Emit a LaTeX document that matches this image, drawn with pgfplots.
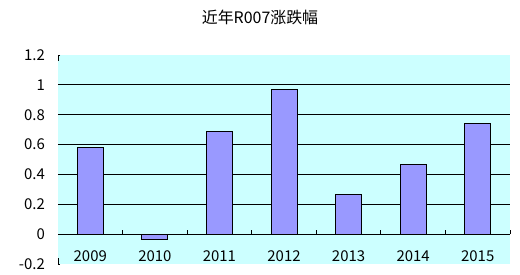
\documentclass[border=0pt]{standalone}
\usepackage{fontspec}
\setmainfont{Noto Sans CJK SC}
\usepackage{pgfplots}
\pgfplotsset{compat=1.18}
\definecolor{plotbg}{HTML}{CCFFFF}
\definecolor{barfill}{HTML}{9999FF}
\begin{document}
\begin{tikzpicture}
\path[use as bounding box] (-58bp,-11bp) rectangle (462bp,264bp);
\begin{axis}[
  at={(0,0)}, anchor=south west,
  scale only axis, width=452bp, height=209bp,
  xmin=-0.5, xmax=6.5, ymin=-0.2, ymax=1.2,
  axis line style={draw=none},
  axis background/.style={fill=plotbg},
  ybar, bar width=26bp,
  xtick={0,1,2,3,4,5,6},
  xticklabels={2009,2010,2011,2012,2013,2014,2015},
  ytick={0,0.2,0.4,0.6,0.8,1},
  yticklabels={0,0.2,0.4,0.6,0.8,1},
  extra y ticks={-0.2,1.2},
  extra y tick labels={-0.2,1.2},
  extra y tick style={grid=none},
  ymajorgrids, grid style={black, line width=0.9bp},
  major tick length=0pt,
  tick label style={font=\fontsize{15}{17}\selectfont},
  xticklabel style={anchor=center, yshift=8bp},
  yticklabel style={anchor=east, inner sep=0pt, xshift=-13bp},
  /pgf/number format/assume math mode=true,
  clip=false,
]
\addplot[fill=barfill, draw=black, line width=0.9bp]
  coordinates {(0,0.58) (1,-0.036) (2,0.69) (3,0.97) (4,0.266) (5,0.467) (6,0.742)};
% category axis along zero, with ticks between the years
\draw[black, line width=0.9bp] (axis cs:-0.5,0) -- (axis cs:6.5,0);
\pgfplotsinvokeforeach{0.5,1.5,2.5,3.5,4.5,5.5,6.5}{
  \draw[black, line width=0.9bp] (axis cs:#1,0) -- ([yshift=4bp]axis cs:#1,0);
}
% short corner marks at the ends of the value axis
\draw[black, line width=0.9bp] ([xshift=2bp]axis cs:-0.5,1.2) -- (axis cs:-0.5,1.2) -- ([yshift=-6bp]axis cs:-0.5,1.2);
\draw[black, line width=0.9bp] ([xshift=2bp]axis cs:-0.5,-0.2) -- (axis cs:-0.5,-0.2) -- ([yshift=6bp]axis cs:-0.5,-0.2);
\end{axis}
\node[font=\fontsize{16}{19}\selectfont] at (202bp,247bp) {近年R007涨跌幅};
\end{tikzpicture}
\end{document}
